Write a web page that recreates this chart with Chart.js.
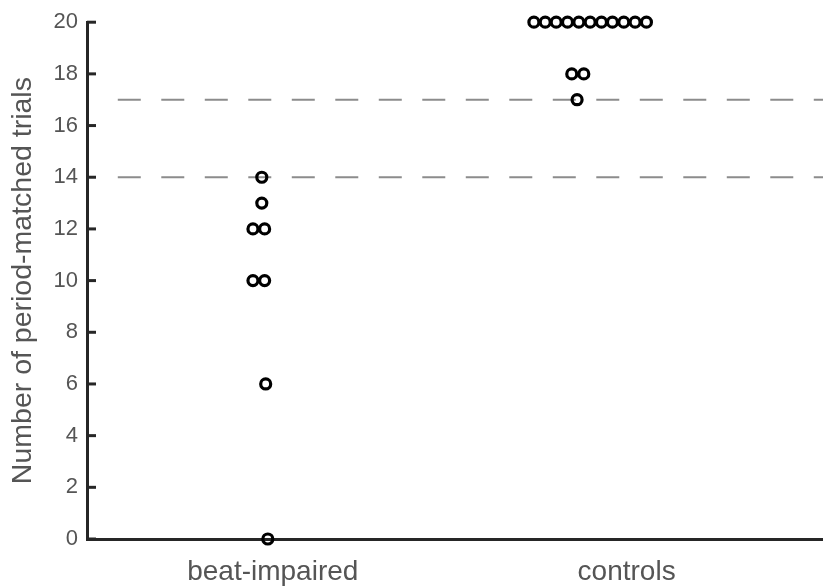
<!DOCTYPE html>
<html lang="en">
<head>
<meta charset="UTF-8">
<title>Period-matched trials</title>
<script src="https://cdn.jsdelivr.net/npm/chart.js@4"></script>
<style>
  html, body { margin: 0; padding: 0; background: #fff; }
</style>
</head>
<body>
<canvas id="grafico" width="823" height="588"></canvas>
<script>
  // categories and tick labels
  const categorias = ['beat-impaired', 'controls'];
  const posCategorias = [1, 2];
  const yTicks = [0, 2, 4, 6, 8, 10, 12, 14, 16, 18, 20];

  // beat-impaired subjects (x = jittered category position)
  const impairedX = [0.969, 0.969, 0.944, 0.977, 0.944, 0.977, 0.980, 0.986];
  const impairedY = [14, 13, 12, 12, 10, 10, 6, 0];

  // controls
  const controlsX = [1.738, 1.770, 1.801, 1.833, 1.865, 1.897, 1.929, 1.960, 1.992, 2.024, 2.056,
                     1.845, 1.879, 1.860];
  const controlsY = [20, 20, 20, 20, 20, 20, 20, 20, 20, 20, 20, 18, 18, 17];

  // dashed reference levels
  const limiares = [17, 14];

  const X_MIN = 0.475;
  const X_MAX = 2.555;
  const INICIO_TRACO = 0.562;

  const fonte = '"Liberation Sans", Arial, Helvetica, sans-serif';
  const corEixo = '#262626';
  const corTexto = '#555555';

  function pontos(xs, ys) {
    return xs.map((x, i) => ({ x: x, y: ys[i] }));
  }

  const datasetsLimiar = limiares.map(v => ({
    label: 'limiar ' + v,
    data: [{ x: INICIO_TRACO, y: v }, { x: X_MAX, y: v }],
    showLine: true,
    borderColor: '#8c8c8c',
    borderWidth: 2,
    borderDash: [23, 20.5],
    pointRadius: 0,
    order: 2
  }));

  const estiloPonto = {
    pointRadius: 5,
    pointHoverRadius: 5,
    borderColor: '#000',
    backgroundColor: 'rgba(0,0,0,0)',
    borderWidth: 3.2,
    clip: false,
    order: 1
  };

  // inward tick marks on the y axis
  const marcasInternas = {
    id: 'marcasInternas',
    afterDraw(chart) {
      const y = chart.scales.y;
      const ctx = chart.ctx;
      const esq = chart.chartArea.left;
      ctx.save();
      ctx.strokeStyle = corEixo;
      ctx.lineWidth = 3;
      y.ticks.forEach(t => {
        const py = y.getPixelForValue(t.value);
        ctx.beginPath();
        ctx.moveTo(esq, py);
        ctx.lineTo(esq + 9, py);
        ctx.stroke();
      });
      ctx.restore();
    }
  };

  new Chart(document.getElementById('grafico'), {
    type: 'scatter',
    data: {
      datasets: [
        ...datasetsLimiar,
        Object.assign({ label: categorias[0], data: pontos(impairedX, impairedY) }, estiloPonto),
        Object.assign({ label: categorias[1], data: pontos(controlsX, controlsY) }, estiloPonto)
      ]
    },
    options: {
      responsive: false,
      animation: false,
      devicePixelRatio: 1,
      layout: {
        autoPadding: false,
        padding: { top: 20, right: 0, left: 0, bottom: 0 }
      },
      plugins: {
        legend: { display: false },
        tooltip: { enabled: false }
      },
      scales: {
        x: {
          type: 'linear',
          min: X_MIN,
          max: X_MAX,
          afterBuildTicks: s => { s.ticks = posCategorias.map(v => ({ value: v })); },
          afterFit: s => {
            s.height = 49;
            s.paddingLeft = 0;
            s.paddingRight = 0;
          },
          grid: { display: false, drawTicks: false },
          border: { display: true, color: corEixo, width: 3 },
          ticks: {
            autoSkip: false,
            maxRotation: 0,
            padding: 16,
            color: corTexto,
            font: { family: fonte, size: 28 },
            callback: v => categorias[posCategorias.indexOf(v)] || ''
          }
        },
        y: {
          min: 0,
          max: 20,
          afterBuildTicks: s => { s.ticks = yTicks.map(v => ({ value: v })); },
          afterFit: s => { s.width = 87; },
          grid: { display: false, drawTicks: false },
          border: { display: true, color: corEixo, width: 3 },
          ticks: {
            padding: 9,
            color: corTexto,
            font: { family: fonte, size: 22 }
          },
          title: {
            display: true,
            text: 'Number of period-matched trials',
            color: corTexto,
            font: { family: fonte, size: 28.5 },
            padding: { top: 6, bottom: 0 }
          }
        }
      }
    },
    plugins: [marcasInternas]
  });
</script>
</body>
</html>
